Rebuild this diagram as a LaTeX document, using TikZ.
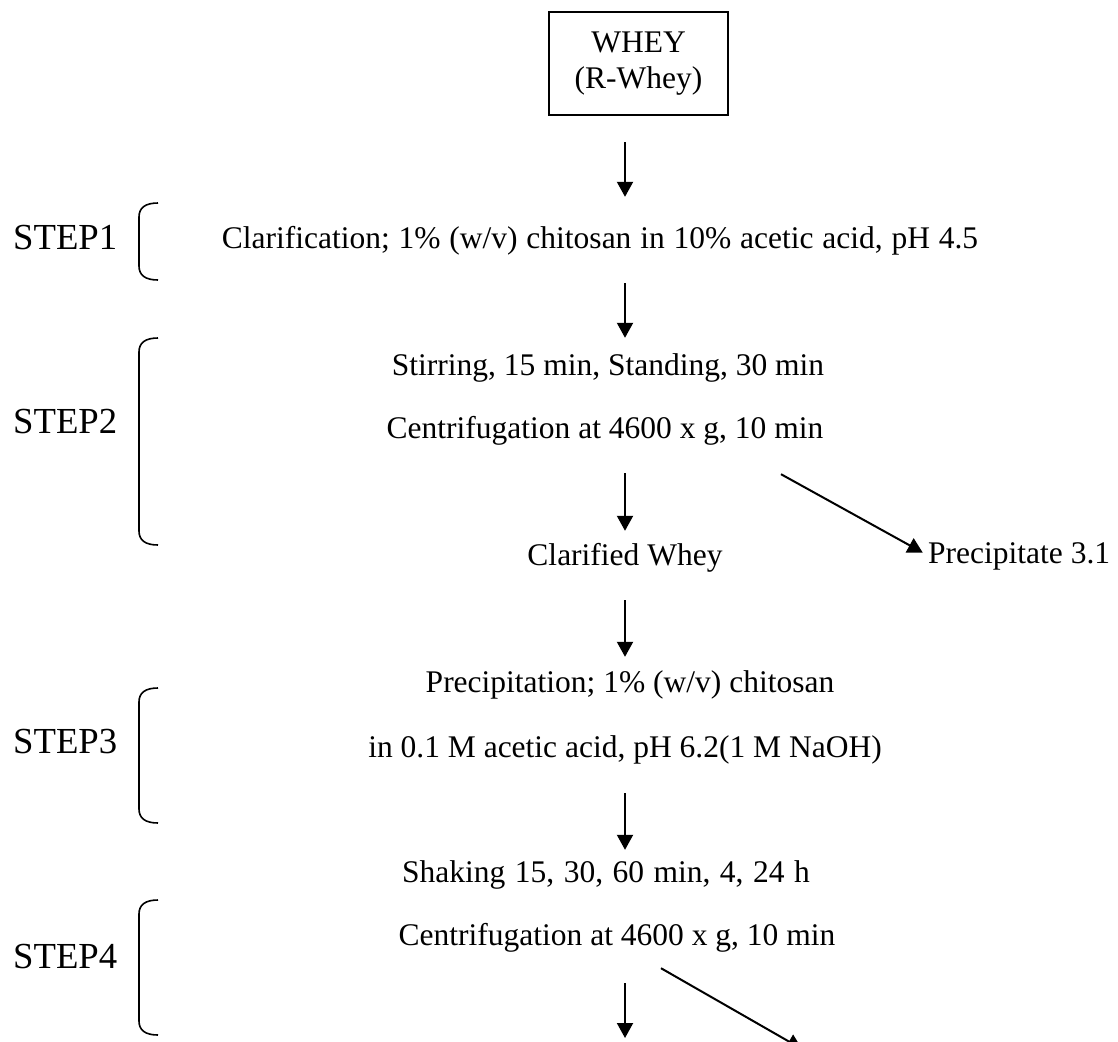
\documentclass[tikz,border=0pt]{standalone}
\usepackage{fontspec}
\setmainfont{Liberation Serif}
\usetikzlibrary{arrows.meta}
\begin{document}
\begin{tikzpicture}[x=1pt,y=-1pt,
  txt/.style={inner sep=0pt, anchor=base, text height=22pt, text depth=7pt, font=\fontsize{31.5}{35}\selectfont},
  txtw/.style={txt, anchor=base west},
  steplbl/.style={inner sep=0pt, anchor=base west, font=\fontsize{36.7}{40}\selectfont},
  arr/.style={line width=2pt, -{Triangle[width=16pt,length=15pt]}},
  brk/.style={line width=1.6pt},
  wbox/.style={draw, line width=2pt, minimum width=179pt, minimum height=103pt, align=center, inner sep=0pt, font=\fontsize{31.5}{36}\selectfont}]
\useasboundingbox (0,0) rectangle (1118,1041);
\clip (0,0) rectangle (1118,1041);
\coordinate (ax) at (625,0);

% nodes
\node[wbox] (whey) at (638.5,63.5) {WHEY\\(R-Whey)};
\node[txt] (clar) at (600,248) {\spaceskip=8.8pt Clarification; 1\% (w/v) chitosan in 10\% acetic acid, pH 4.5};
\node[txt] (stir) at (608,375) {Stirring, 15 min, Standing, 30 min};
\node[txt] (cent1) at (605,438) {Centrifugation at 4600 x g, 10 min};
\node[txt] (cw) at (625,565) {Clarified Whey};
\node[txtw] (prec31) at (928,563) {Precipitate 3.1};
\node[txt] (precip) at (630,692) {Precipitation; 1\% (w/v) chitosan};
\node[txt] (in01) at (625,757) {in 0.1 M acetic acid, pH 6.2(1 M NaOH)};
\node[txt] (shak) at (606,882) {\spaceskip=9.5pt Shaking 15, 30, 60 min, 4, 24 h};
\node[txt] (cent2) at (617,945) {Centrifugation at 4600 x g, 10 min};
\coordinate (bot) at (625,1038);
\coordinate (d2e) at (802,1049);

% step labels
\node[steplbl] (s1) at (13,249) {STEP1};
\node[steplbl] (s2) at (13,433) {STEP2};
\node[steplbl] (s3) at (13,753) {STEP3};
\node[steplbl] (s4) at (13,968) {STEP4};

% brackets
\foreach \t/\b in {203/280, 338/545, 688/823, 900/1035}{
  \draw[brk] (158,\t) .. controls (145,\t) and (139,\t+5) .. (139,\t+14)
     -- (139,\b-14) .. controls (139,\b-5) and (145,\b) .. (158,\b);
}

% connectors
\draw[arr, shorten <=26pt, shorten >=29pt] (whey.south -| ax) -- (clar.north -| ax);
\draw[arr, shorten <=28pt, shorten >=15pt] (clar.south -| ax) -- (stir.north -| ax);
\draw[arr, shorten <=28pt, shorten >=12pt] (cent1.south -| ax) -- (cw.north -| ax);
\draw[arr, shorten >=6pt] ([xshift=176pt,yshift=-29pt]cent1.south) -- (prec31.west);
\draw[arr, shorten <=28pt, shorten >=13pt] (cw.south -| ax) -- (precip.north -| ax);
\draw[arr, shorten <=29pt, shorten >=10pt] (in01.south -| ax) -- (shak.north -| ax);
\draw[arr, shorten <=31pt] (cent2.south -| ax) -- (bot);
\draw[arr] ([xshift=44pt,yshift=-16pt]cent2.south) -- (d2e);
\end{tikzpicture}
\end{document}
